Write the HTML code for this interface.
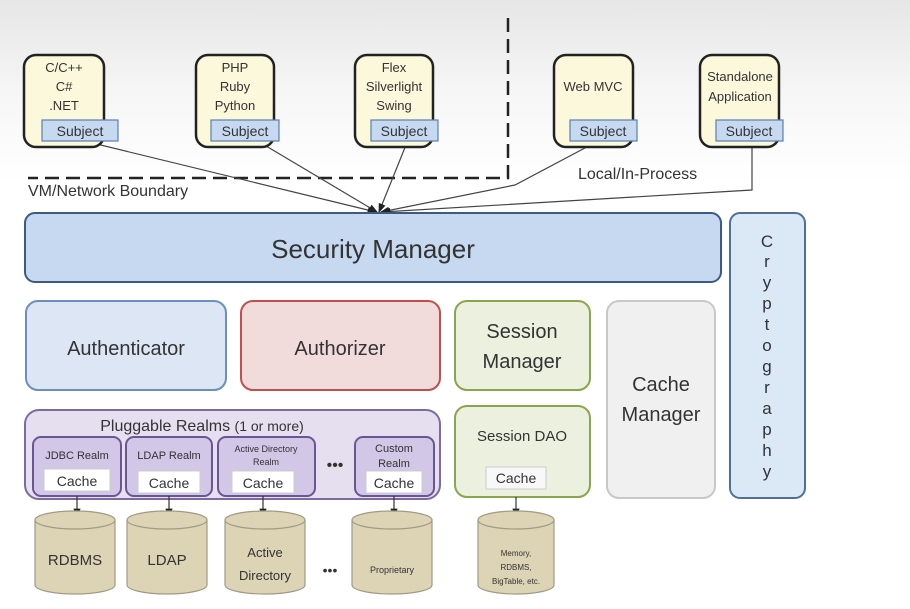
<!DOCTYPE html>
<html><head><meta charset="utf-8"><style>
html,body{margin:0;padding:0;width:910px;height:609px;overflow:hidden;background:#fff}
text{font-family:"Liberation Sans",sans-serif;fill:#333}
</style></head><body>
<svg width="910" height="609" viewBox="0 0 910 609" xmlns="http://www.w3.org/2000/svg">
<defs>
<linearGradient id="bg" x1="0" y1="0" x2="0" y2="1"><stop offset="0" stop-color="#e6e6e6"/><stop offset="0.15" stop-color="#f6f6f6"/><stop offset="0.3" stop-color="#fff"/></linearGradient>
<marker id="ar" markerWidth="8" markerHeight="8" refX="7" refY="4" orient="auto"><path d="M0,1 L8,4 L0,7Z" fill="#222"/></marker>
</defs>
<rect width="910" height="609" fill="url(#bg)"/>
<path d="M508,18 V178 H28" fill="none" stroke="#222" stroke-width="2.5" stroke-dasharray="14,7"/>
<text x="28" y="196" font-size="16">VM/Network Boundary</text>
<text x="578" y="179" font-size="16">Local/In-Process</text>
<g stroke="#444" stroke-width="1.2" fill="none">
<path d="M80,140 L376,212" marker-end="url(#ar)"/>
<path d="M256,140 L377,212" marker-end="url(#ar)"/>
<path d="M408,140 L379,212" marker-end="url(#ar)"/>
<path d="M600,140 L515,185 L381,212" marker-end="url(#ar)"/>
<path d="M752,140 V190 L382,212" marker-end="url(#ar)"/>
</g>
<g stroke="#222" stroke-width="2.5" fill="#fbf8dc">
<rect x="24" y="55" width="80" height="92" rx="12"/>
<rect x="196" y="55" width="78" height="92" rx="12"/>
<rect x="355" y="55" width="78" height="92" rx="12"/>
<rect x="554" y="55" width="79" height="92" rx="12"/>
<rect x="700" y="55" width="79" height="92" rx="12"/>
</g>
<g font-size="13" text-anchor="middle">
<text x="64" y="72">C/C++</text><text x="64" y="91">C#</text><text x="64" y="110">.NET</text>
<text x="235" y="72">PHP</text><text x="235" y="91">Ruby</text><text x="235" y="110">Python</text>
<text x="394" y="72">Flex</text><text x="394" y="91">Silverlight</text><text x="394" y="110">Swing</text>
<text x="593" y="91">Web MVC</text>
<text x="740" y="81">Standalone</text><text x="740" y="101">Application</text>
</g>
<g stroke="#5a7fae" stroke-width="1.2" fill="#c6d9f1">
<rect x="42" y="120" width="76" height="21"/>
<rect x="211" y="120" width="68" height="21"/>
<rect x="371" y="120" width="67" height="21"/>
<rect x="570" y="120" width="67" height="21"/>
<rect x="716" y="120" width="67" height="21"/>
</g>
<g font-size="14" text-anchor="middle">
<text x="80" y="136">Subject</text><text x="245" y="136">Subject</text><text x="404" y="136">Subject</text><text x="603" y="136">Subject</text><text x="749" y="136">Subject</text>
</g>
<rect x="25" y="213" width="696" height="69" rx="10" fill="#c6d9f1" stroke="#3b5a85" stroke-width="2"/>
<text x="373" y="258" font-size="26" text-anchor="middle">Security Manager</text>
<rect x="730" y="213" width="75" height="285" rx="10" fill="#dbe9f7" stroke="#4f6f9b" stroke-width="2"/>
<g font-size="17" text-anchor="middle">
<text x="767" y="247">C</text><text x="767" y="267">r</text><text x="767" y="288">y</text><text x="767" y="309">p</text><text x="767" y="330">t</text><text x="767" y="351">o</text><text x="767" y="372">g</text><text x="767" y="393">r</text><text x="767" y="414">a</text><text x="767" y="435">p</text><text x="767" y="456">h</text><text x="767" y="477">y</text>
</g>
<rect x="26" y="301" width="200" height="89" rx="12" fill="#dce6f4" stroke="#6d8fc0" stroke-width="2"/>
<text x="126" y="355" font-size="20" text-anchor="middle">Authenticator</text>
<rect x="241" y="301" width="199" height="89" rx="12" fill="#f2dcdb" stroke="#c0504d" stroke-width="2"/>
<text x="340" y="355" font-size="20" text-anchor="middle">Authorizer</text>
<rect x="455" y="301" width="135" height="89" rx="12" fill="#ebf1de" stroke="#8aa64d" stroke-width="2"/>
<text x="522" y="338" font-size="20" text-anchor="middle">Session</text>
<text x="522" y="368" font-size="20" text-anchor="middle">Manager</text>
<rect x="607" y="301" width="108" height="197" rx="12" fill="#f0f0f0" stroke="#c8c8c8" stroke-width="2"/>
<text x="661" y="391" font-size="20" text-anchor="middle">Cache</text>
<text x="661" y="421" font-size="20" text-anchor="middle">Manager</text>
<rect x="455" y="406" width="135" height="91" rx="12" fill="#ebf1de" stroke="#8aa64d" stroke-width="2"/>
<text x="522" y="441" font-size="15" text-anchor="middle">Session DAO</text>
<rect x="486" y="467" width="60" height="22" fill="#f8f8f8" stroke="#ccc"/>
<text x="516" y="483" font-size="14" text-anchor="middle">Cache</text>
<rect x="25" y="410" width="415" height="89" rx="14" fill="#e5dff0" stroke="#7d6aa3" stroke-width="2"/>
<text x="202" y="431" font-size="16" text-anchor="middle">Pluggable Realms <tspan font-size="14">(1 or more)</tspan></text>
<g fill="#d2c7e6" stroke="#6a5695" stroke-width="2">
<rect x="33" y="437" width="88" height="59" rx="8"/>
<rect x="126" y="437" width="86" height="59" rx="8"/>
<rect x="218" y="437" width="97" height="59" rx="8"/>
<rect x="355" y="437" width="79" height="59" rx="8"/>
</g>
<g font-size="11" text-anchor="middle">
<text x="77" y="459">JDBC Realm</text><text x="169" y="459">LDAP Realm</text>
<text x="266" y="452" font-size="9">Active Directory</text><text x="266" y="465" font-size="9">Realm</text>
<text x="394" y="452">Custom</text><text x="394" y="467">Realm</text>
</g>
<text x="335" y="470" font-size="16" text-anchor="middle">•••</text>
<g fill="#fff" stroke="#ccc"><rect x="44" y="469" width="66" height="22"/><rect x="138" y="471" width="62" height="22"/><rect x="232" y="471" width="62" height="22"/><rect x="366" y="471" width="56" height="22"/></g>
<g font-size="14" text-anchor="middle"><text x="77" y="486">Cache</text><text x="169" y="488">Cache</text><text x="263" y="488">Cache</text><text x="394" y="488">Cache</text></g>
<g stroke="#333" stroke-width="1.2"><path d="M77,496 V517" marker-end="url(#ar)"/><path d="M169,496 V517" marker-end="url(#ar)"/><path d="M263,496 V517" marker-end="url(#ar)"/><path d="M394,496 V517" marker-end="url(#ar)"/><path d="M516,497 V517" marker-end="url(#ar)"/></g>
<g fill="#ddd3b5" stroke="#a09a86" stroke-width="1.2">
<path d="M35,520 V585 A40,9 0 0 0 115,585 V520"/><ellipse cx="75" cy="520" rx="40" ry="9"/>
<path d="M127,520 V585 A40,9 0 0 0 207,585 V520"/><ellipse cx="167" cy="520" rx="40" ry="9"/>
<path d="M225,520 V585 A40,9 0 0 0 305,585 V520"/><ellipse cx="265" cy="520" rx="40" ry="9"/>
<path d="M352,520 V585 A40,9 0 0 0 432,585 V520"/><ellipse cx="392" cy="520" rx="40" ry="9"/>
<path d="M478,520 V585 A38,9 0 0 0 554,585 V520"/><ellipse cx="516" cy="520" rx="38" ry="9"/>
</g>
<g text-anchor="middle">
<text x="75" y="565" font-size="15">RDBMS</text>
<text x="167" y="565" font-size="15">LDAP</text>
<text x="265" y="557" font-size="13">Active</text><text x="265" y="580" font-size="13">Directory</text>
<text x="330" y="575" font-size="14">•••</text>
<text x="392" y="573" font-size="9">Proprietary</text>
<text x="516" y="556" font-size="8">Memory,</text><text x="516" y="570" font-size="8">RDBMS,</text><text x="516" y="584" font-size="8">BigTable, etc.</text>
</g>
</svg>
</body></html>
